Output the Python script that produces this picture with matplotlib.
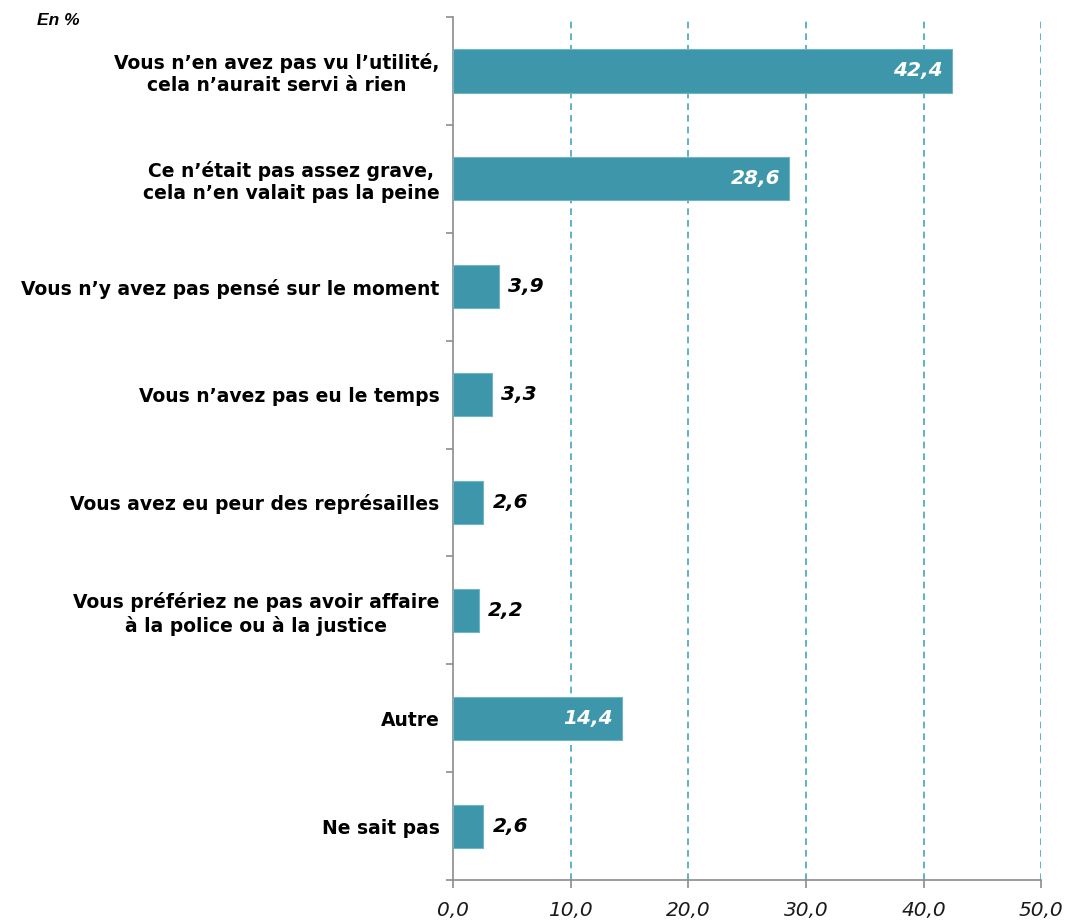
import numpy as np
import matplotlib.pyplot as plt
from matplotlib.ticker import FixedLocator

categories = [
    "Vous n\u2019en avez pas vu l\u2019utilité,\ncela n\u2019aurait servi à rien",
    "Ce n\u2019était pas assez grave,\ncela n\u2019en valait pas la peine",
    "Vous n\u2019y avez pas pensé sur le moment",
    "Vous n\u2019avez pas eu le temps",
    "Vous avez eu peur des représailles",
    "Vous préfériez ne pas avoir affaire\nà la police ou à la justice",
    "Autre",
    "Ne sait pas",
]
values = [42.4, 28.6, 3.9, 3.3, 2.6, 2.2, 14.4, 2.6]
xticks = [0, 10, 20, 30, 40, 50]

bar_color = "#3E96AB"
grid_color = "#45A5BD"
axis_color = "#8C8C8C"


def fr(v):
    return f"{v:.1f}".replace(".", ",")


fig = plt.figure(figsize=(10.68, 9.24), dpi=100)
ax = fig.add_axes([0.424, 0.0476, 0.551, 0.934])

n = len(categories)
y = np.arange(n)
ax.barh(y, values, height=0.4, color=bar_color, edgecolor="#6FB5C6",
        linewidth=0.8, zorder=3)

ax.set_xlim(0, 50)
ax.set_ylim(n - 0.5, -0.5)

# dashed vertical gridlines
for t in xticks[1:]:
    ax.axvline(t, color=grid_color, linestyle=(0, (4, 3)), linewidth=1.2, zorder=1)

ax.set_xticks(xticks)
ax.set_xticklabels([fr(t) for t in xticks], fontsize=14.5, fontstyle="italic",
                   family="DejaVu Sans", color="#1a1a1a")
ax.set_yticks(y)
ax.set_yticklabels(categories, fontsize=13.5, fontweight="bold",
                   family="DejaVu Sans", ha="right", multialignment="center")
ax.tick_params(axis="y", which="major", length=0, pad=9.5)
ax.yaxis.set_minor_locator(FixedLocator(np.arange(-0.5, n, 1)))
ax.tick_params(axis="y", which="minor", length=5, color=axis_color, width=1.2)
ax.tick_params(axis="x", length=6, color=axis_color, width=1.2, pad=9)

for s in ["top", "right"]:
    ax.spines[s].set_visible(False)
for s in ["left", "bottom"]:
    ax.spines[s].set_color(axis_color)
    ax.spines[s].set_linewidth(1.2)

# value labels: inside for long bars, outside for short ones
for yi, v in zip(y, values):
    if v > 10:
        ax.text(v - 0.8, yi, fr(v), ha="right", va="center", color="white",
                fontsize=14.5, fontweight="bold", fontstyle="italic", zorder=4)
    else:
        ax.text(v + 0.8, yi, fr(v), ha="left", va="center", color="black",
                fontsize=14.5, fontweight="bold", fontstyle="italic", zorder=4)

fig.text(0.035, 0.978, "En %", fontsize=12.5, fontweight="bold",
         fontstyle="italic", family="Liberation Sans", va="center")

fig.savefig("out.png", dpi=100)
